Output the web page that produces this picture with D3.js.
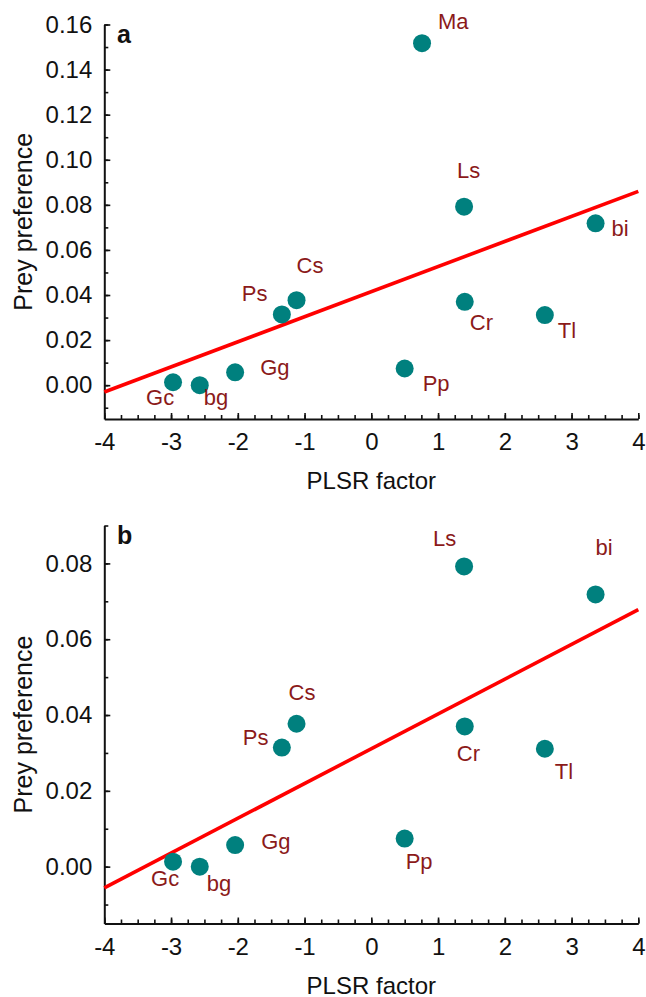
<!DOCTYPE html>
<html>
<head>
<meta charset="utf-8">
<script src="https://cdn.jsdelivr.net/npm/d3@7"></script>
<style>
  body { margin: 0; background: #fff; }
  text { font-family: "Liberation Sans", Arial, sans-serif; }
</style>
</head>
<body>
<svg id="chart" width="646" height="997"></svg>
<script>
// species and values
const species = ["Ma", "Ls", "bi", "Cs", "Ps", "Gg", "Gc", "bg", "Cr", "Tl", "Pp"];
const plsr = [0.76, 1.39, 3.36, -1.12, -1.34, -2.04, -2.97, -2.57, 1.40, 2.60, 0.50];
const preference = [0.1517, 0.0792, 0.0718, 0.0377, 0.0314, 0.0057, 0.0013, 0.0000, 0.0370, 0.0311, 0.0074];

// fitted lines, value at x = -4 and x = 4
const fitX = [-4, 4];
const fitA = [-0.003, 0.086];
const fitB = [-0.0056, 0.0678];

const xTicks = [-4, -3, -2, -1, 0, 1, 2, 3, 4];
const yTicksA = [0, 0.02, 0.04, 0.06, 0.08, 0.10, 0.12, 0.14, 0.16];
const yTicksB = [0, 0.02, 0.04, 0.06, 0.08];

// label offsets (px) from each dot, per panel
const labelPosA = {
  Ma: [16, -14], Ls: [-7, -29], bi: [16, 13], Cs: [0, -27], Ps: [-40, -13],
  Gg: [25, 3], Gc: [-27, 23], bg: [4, 20], Cr: [5, 28], Tl: [13, 23], Pp: [18, 22]
};
const labelPosB = {
  Ls: [-31, -20], bi: [0, -39], Cs: [-8, -24], Ps: [-39, -3],
  Gg: [26, 4], Gc: [-22, 24], bg: [7, 24], Cr: [-8, 35], Tl: [10, 30], Pp: [1, 30]
};

const svg = d3.select("#chart");
const x = d3.scaleLinear().domain([-4, 4]).range([104.3, 638.3]);

function panel(opts) {
  const y = d3.scaleLinear().domain(opts.yDomain).range(opts.yRange);
  const g = svg.append("g");

  // minor ticks
  g.append("g")
    .attr("transform", `translate(0,${opts.yRange[0]})`)
    .call(d3.axisBottom(x).tickValues(d3.range(-4, 4.001, 0.25)).tickSize(-4).tickSizeOuter(0).tickFormat(""))
    .call(a => a.select(".domain").remove());
  g.append("g")
    .attr("transform", `translate(${x(-4)},0)`)
    .call(d3.axisLeft(y).tickValues(d3.range(-0.01, opts.yDomain[1] + 0.0001, 0.01)).tickSize(-4).tickSizeOuter(0).tickFormat(""))
    .call(a => a.select(".domain").remove());

  // major axes
  const xa = g.append("g")
    .attr("transform", `translate(0,${opts.yRange[0]})`)
    .call(d3.axisBottom(x).tickValues(xTicks).tickSize(-6).tickSizeOuter(0).tickPadding(14).tickFormat(d3.format("d")));
  const ya = g.append("g")
    .attr("transform", `translate(${x(-4)},0)`)
    .call(d3.axisLeft(y).tickValues(opts.yTicks).tickSize(-6).tickSizeOuter(0).tickPadding(12).tickFormat(d3.format(".2f")));

  g.selectAll(".tick line").attr("stroke", "#111").attr("stroke-width", 1.6);
  g.selectAll(".domain").attr("stroke", "#111").attr("stroke-width", 2);
  [xa, ya].forEach(a => a.selectAll("text")
    .attr("fill", "#111")
    .style("font-size", "24px")
    .style("font-family", "'Liberation Sans', Arial, sans-serif"));
  xa.selectAll("text").text(d => d < 0 ? "-" + Math.abs(d) : d);

  // regression line
  g.append("path")
    .datum(fitX.map((d, i) => [d, opts.fit[i]]))
    .attr("fill", "none")
    .attr("stroke", "#ff0000")
    .attr("stroke-width", 3.6)
    .attr("d", d3.line().x(d => x(d[0])).y(d => y(d[1])));

  const pts = species.map((s, i) => ({ s, x: plsr[i], y: preference[i] }))
    .filter(d => opts.labels[d.s]);

  g.selectAll("circle.pt")
    .data(pts)
    .join("circle")
    .attr("class", "pt")
    .attr("cx", d => x(d.x))
    .attr("cy", d => y(d.y))
    .attr("r", 9)
    .attr("fill", "#00807e");

  g.selectAll("text.lab")
    .data(pts)
    .join("text")
    .attr("class", "lab")
    .attr("x", d => x(d.x) + opts.labels[d.s][0])
    .attr("y", d => y(d.y) + opts.labels[d.s][1])
    .attr("fill", "#8b1a1a")
    .style("font-size", "22px")
    .text(d => d.s);

  // panel letter
  g.append("text")
    .attr("x", 117)
    .attr("y", opts.yRange[1] + 18)
    .style("font-size", "25px")
    .style("font-weight", "bold")
    .attr("fill", "#111")
    .text(opts.letter);

  // axis titles
  const midY = (opts.yRange[0] + opts.yRange[1]) / 2;
  g.append("text")
    .attr("transform", `translate(32,${midY}) rotate(-90)`)
    .attr("text-anchor", "middle")
    .style("font-size", "25px")
    .attr("fill", "#111")
    .text("Prey preference");
  g.append("text")
    .attr("x", (x(-4) + x(4)) / 2)
    .attr("y", opts.yRange[0] + 70)
    .attr("text-anchor", "middle")
    .style("font-size", "24px")
    .attr("fill", "#111")
    .text("PLSR factor");
}

panel({
  letter: "a", yDomain: [-0.015, 0.16], yRange: [419, 24.5],
  yTicks: yTicksA, fit: fitA, labels: labelPosA
});
panel({
  letter: "b", yDomain: [-0.015, 0.09], yRange: [923.5, 525.5],
  yTicks: yTicksB, fit: fitB, labels: labelPosB
});
</script>
</body>
</html>
